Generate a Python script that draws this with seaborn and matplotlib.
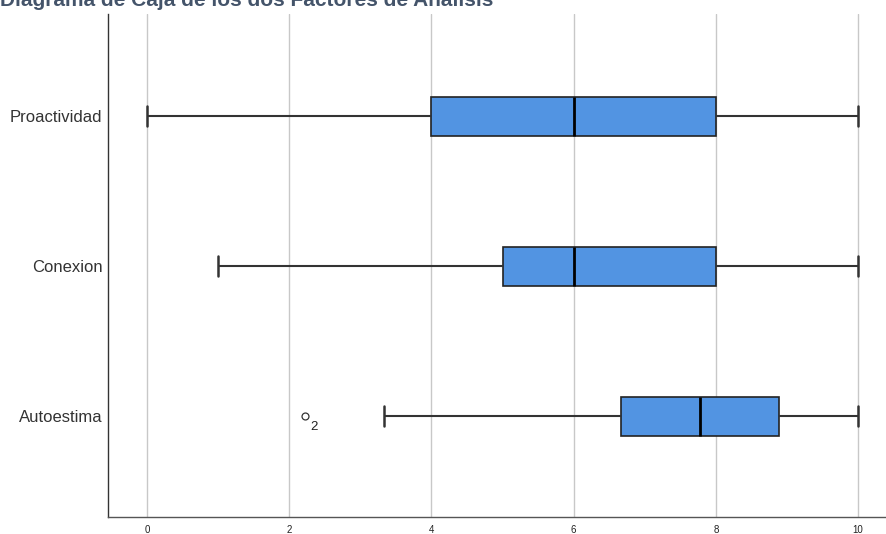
import matplotlib
matplotlib.use("Agg")
import matplotlib.pyplot as plt
import seaborn as sns
import pandas as pd

categories = ["Proactividad", "Conexion", "Autoestima"]
proactividad = [0.0, 4.0, 6.0, 8.0, 10.0]
conexion = [1.0, 5.0, 6.0, 8.0, 10.0]
autoestima = [2.22, 3.33, 6.67, 7.22, 7.78, 8.33, 8.89, 9.44, 10.0]
outlier_label = "2"
outlier_value = 2.22
xticks = [0, 2, 4, 6, 8, 10]
title = "Diagrama de Caja de los dos Factores de Análisis"

rows = []
for cat, vals in zip(categories, [proactividad, conexion, autoestima]):
    for v in vals:
        rows.append({"factor": cat, "valor": v})
df = pd.DataFrame(rows)

sns.set_style("white")
plt.rcParams["font.family"] = ["Liberation Sans", "DejaVu Sans"]

fig = plt.figure(figsize=(8.87, 5.34), dpi=100)
ax = fig.add_axes([108 / 887, 17 / 534, 1 - 108 / 887, (517 - 14) / 534])

ax.grid(axis="x", color="#c8c8c8", linewidth=1.0, zorder=0)
ax.set_axisbelow(True)

sns.boxplot(
    data=df, x="valor", y="factor", order=categories, ax=ax,
    orient="h", width=0.26, whis=1.6,
    color="#5294e2", saturation=1,
    linecolor="#333333", linewidth=1.2,
    boxprops=dict(edgecolor="#222222", facecolor="#5294e2"),
    medianprops=dict(color="#000000", linewidth=2.0),
    whiskerprops=dict(color="#333333", linewidth=1.5),
    capprops=dict(color="#333333", linewidth=1.8),
    flierprops=dict(marker="o", markerfacecolor="white", markeredgecolor="#333333",
                    markersize=5, markeredgewidth=0.9),
    zorder=3,
)

# outlier case label
ax.annotate(outlier_label, xy=(outlier_value, 2), xytext=(4, -10),
            textcoords="offset points", fontsize=9.5, color="#222222")

ax.set_xlim(-0.55, (887 - 147) / 71.1)
ax.set_ylim(2.673, -0.68)
ax.set_xticks(xticks)
ax.set_xticklabels([str(t) for t in xticks], fontsize=7, color="#222222")
ax.tick_params(axis="y", labelsize=12, labelcolor="#333333", length=0, pad=4)
ax.tick_params(axis="x", length=0, pad=6)
ax.set_xlabel("")
ax.set_ylabel("")

for s in ["top", "right"]:
    ax.spines[s].set_visible(False)
ax.spines["left"].set_color("#333333")
ax.spines["left"].set_linewidth(1.0)
ax.spines["bottom"].set_color("#555555")
ax.spines["bottom"].set_linewidth(1.0)

fig.text(0.0, (534 - 6) / 534, title, fontsize=15, fontweight="bold",
         color="#44546a", ha="left", va="baseline")

fig.savefig("out.png", dpi=100)
